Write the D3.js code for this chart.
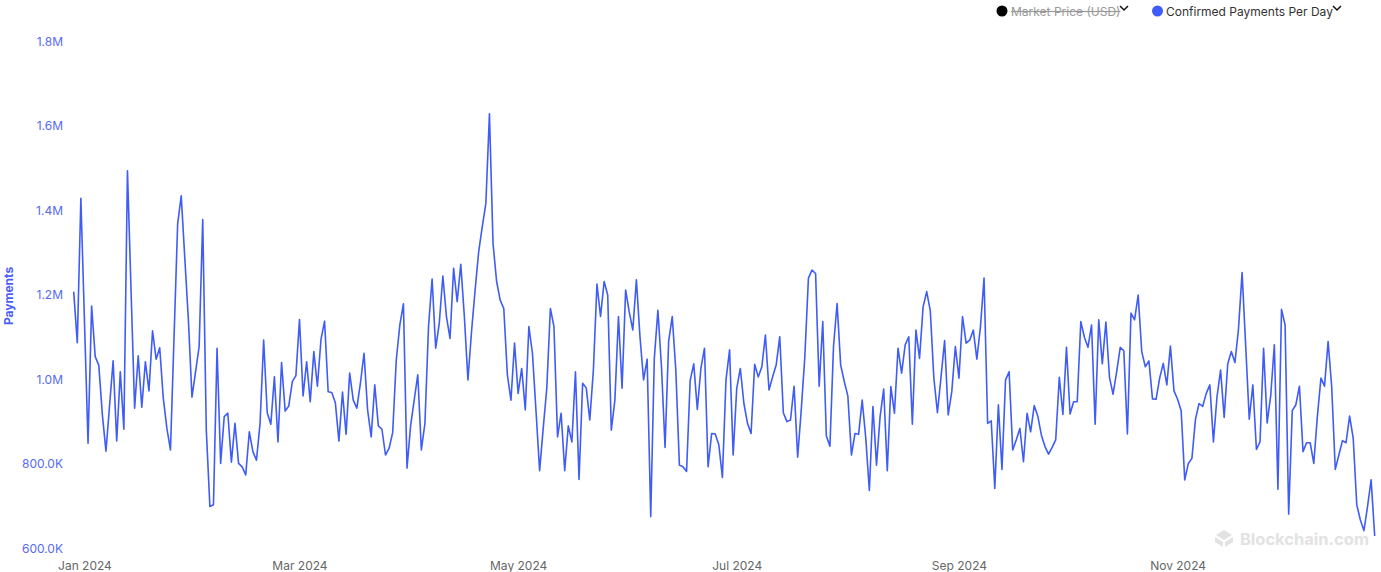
<!DOCTYPE html>
<html>
<head>
<meta charset="utf-8">
<script src="https://cdn.jsdelivr.net/npm/d3@7/dist/d3.min.js"></script>
<style>
  html, body { margin: 0; padding: 0; background: #fff; }
  svg { display: block; font-family: Inter, "Noto Sans", sans-serif; }
</style>
</head>
<body>
<svg id="chart" width="1381" height="572"></svg>
<script>
// ---- data ----
const startDate = "2023-12-29";
const seriesName = "Confirmed Payments Per Day";
const hiddenSeriesName = "Market Price (USD)";
// confirmed payments per day, thousands
const paymentsK = [
  1208,1087,1429,1139,849,1174,1054,1034,916,830,937,1044,854,1018,882,1494,1212,932,1056,934,
  1042,973,1115,1048,1075,955,884,833,1101,1368,1435,1287,1141,958,1018,1078,1379,880,699,703,
  1074,801,912,920,804,896,801,793,774,876,829,809,896,1093,921,894,1006,852,1040,925,
  937,995,1009,1142,961,1042,947,1066,984,1095,1138,971,969,945,854,970,870,1015,951,932,
  991,1062,928,864,987,890,882,821,837,874,1046,1129,1179,790,890,951,1011,833,896,1125,
  1238,1074,1133,1245,1149,1097,1263,1184,1273,1149,999,1113,1212,1303,1362,1417,1629,1322,1232,1188,
  1168,1011,951,1086,967,1026,928,1125,1062,924,784,884,979,1168,1125,864,920,784,890,852,
  1018,763,991,980,904,1022,1226,1149,1232,1200,880,951,1149,979,1212,1160,1117,1236,1101,999,
  1048,675,1050,1164,1030,839,1090,1149,1022,797,793,782,997,1037,929,1026,1074,793,872,871,
  845,768,999,1070,821,979,1026,943,896,872,1036,1006,1030,1105,975,1006,1034,1101,921,900,
  904,984,816,928,1054,1240,1259,1251,984,1137,866,842,1078,1180,1034,995,961,821,872,870,
  951,861,737,936,797,912,977,784,983,920,1074,1015,1082,1101,894,1117,1050,1172,1208,1163,
  1003,921,1006,1092,916,971,1078,1003,1149,1086,1093,1117,1048,1125,1240,896,902,742,940,787,
  999,1018,833,857,884,805,920,876,938,913,868,841,823,839,857,1005,917,1076,918,947,
  947,1137,1100,1076,1129,894,1141,1037,1136,1005,965,1018,1076,1068,871,1157,1141,1200,1066,1030,
  1044,954,953,1003,1038,987,1079,973,953,926,762,801,813,906,943,936,967,987,852,959,
  1022,910,1037,1066,1040,1120,1253,1080,906,987,834,852,1074,897,963,1082,740,1166,1129,681,
  926,940,984,829,850,850,801,912,1003,984,1090,983,787,821,855,850,913,861,703,667,
  642,699,762,629
];
const yTickValues = [600, 800, 1000, 1200, 1400, 1600, 1800];
const yTickLabels = ["600.0K", "800.0K", "1.0M", "1.2M", "1.4M", "1.6M", "1.8M"];
const xTickLabels = ["Jan 2024", "Mar 2024", "May 2024", "Jul 2024", "Sep 2024", "Nov 2024"];
const xTickDates = ["2024-01-01", "2024-03-01", "2024-05-01", "2024-07-01", "2024-09-01", "2024-11-01"];

// ---- build ----
const parse = d3.utcParse("%Y-%m-%d");
const t0 = parse(startDate);
const data = paymentsK.map((v, i) => ({ date: d3.utcDay.offset(t0, i), value: v }));

const svg = d3.select("#chart");
const blue = "#3f5cf6";

const x = d3.scaleUtc()
  .domain(d3.extent(data, d => d.date))
  .range([73.7, 1374.7]);
const y = d3.scaleLinear()
  .domain([600, 1800])
  .range([548.3, 41.7]);

// y axis
const yAxis = d3.axisLeft(y)
  .tickValues(yTickValues)
  .tickFormat((d, i) => yTickLabels[i])
  .tickSize(0)
  .tickPadding(0);
const yg = svg.append("g").attr("transform", "translate(63,0)").call(yAxis);
yg.select(".domain").remove();
yg.selectAll("text").attr("fill", "#5669f5").style("font-size", "12px").style("font-family", "Inter, sans-serif");

// y title
svg.append("text")
  .attr("transform", "translate(13,296) rotate(-90)")
  .attr("text-anchor", "middle")
  .attr("fill", "#4a5ff5")
  .style("font-size", "12px")
  .style("font-weight", "700")
  .text("Payments");

// x axis
const xAxis = d3.axisBottom(x)
  .tickValues(xTickDates.map(parse))
  .tickFormat((d, i) => xTickLabels[i])
  .tickSize(0)
  .tickPadding(0);
const xg = svg.append("g").attr("transform", "translate(0,561.5)").call(xAxis);
xg.select(".domain").remove();
xg.selectAll("text").attr("fill", "#666").style("font-size", "12px").style("font-family", "Inter, sans-serif");

// watermark
const wm = svg.append("g").attr("fill", "#e2e2e2");
wm.append("text")
  .attr("x", 1369).attr("y", 544.5)
  .attr("text-anchor", "end")
  .style("font-size", "16.5px")
  .style("font-weight", "700")
  .text("Blockchain.com");
const ic = wm.append("g").attr("transform", "translate(1224,538)");
ic.append("path").attr("d", "M0,-8 L8,-3 L0,2 L-8,-3 Z");
ic.append("path").attr("d", "M-9,-1 L-1,4 L-1,9 L-9,4 Z");
ic.append("path").attr("d", "M9,-1 L1,4 L1,9 L9,4 Z");

// line
const line = d3.line().x(d => x(d.date)).y(d => y(d.value));
svg.append("path")
  .datum(data)
  .attr("fill", "none")
  .attr("stroke", blue)
  .attr("stroke-width", 1.6)
  .attr("stroke-linejoin", "round")
  .attr("d", line);

// legend
const lg = svg.append("g").style("font-size", "12px");
function chevron(g, cx) {
  g.append("path")
    .attr("d", `M${cx - 4},6 L${cx},10 L${cx + 4},6`)
    .attr("fill", "none").attr("stroke", "#111").attr("stroke-width", 1.5);
}
lg.append("circle").attr("cx", 1002).attr("cy", 11).attr("r", 5.5).attr("fill", "#000");
lg.append("text").attr("x", 1011).attr("y", 15.5).attr("fill", "#999")
  .attr("text-decoration", "line-through").text(hiddenSeriesName);
chevron(lg, 1124);
lg.append("circle").attr("cx", 1157.5).attr("cy", 11).attr("r", 5.5).attr("fill", blue);
lg.append("text").attr("x", 1166).attr("y", 15.5).attr("fill", "#333").text(seriesName);
chevron(lg, 1337);
</script>
</body>
</html>
